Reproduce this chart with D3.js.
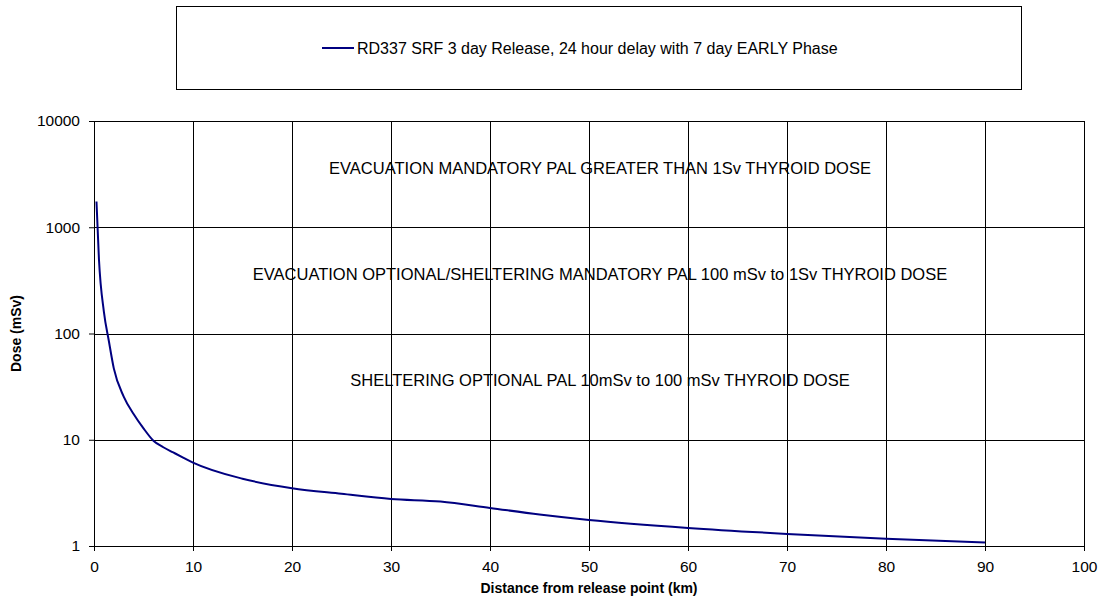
<!DOCTYPE html>
<html>
<head>
<meta charset="utf-8">
<script src="https://cdn.jsdelivr.net/npm/d3@7"></script>
<style>
  html, body { margin: 0; padding: 0; background: #fff; }
  svg { display: block; font-family: "Liberation Sans", Arial, sans-serif; }
</style>
</head>
<body>
<svg id="chart" width="1104" height="596"></svg>
<script>
// distance from release point (km)
const distances = [0.25, 0.5, 1, 1.5, 2, 3, 4, 5, 6, 7, 8, 9, 10, 15, 20, 25, 30, 35, 40, 45, 50, 60, 70, 80, 90];
// thyroid dose (mSv)
const doses = [1750, 500, 160, 85, 47, 25.5, 17.5, 12.8, 9.8, 8.5, 7.6, 6.8, 6.1, 4.3, 3.5, 3.1, 2.77, 2.62, 2.28, 1.98, 1.76, 1.48, 1.3, 1.17, 1.08];

const xTicks = [0, 10, 20, 30, 40, 50, 60, 70, 80, 90, 100];
const yTicks = [1, 10, 100, 1000, 10000];

const seriesName = 'RD337 SRF 3 day Release, 24 hour delay with 7 day EARLY Phase';
const zoneLabels = [
  { text: 'EVACUATION MANDATORY PAL GREATER THAN 1Sv THYROID DOSE', dose: 3162 },
  { text: 'EVACUATION OPTIONAL/SHELTERING MANDATORY PAL 100 mSv to 1Sv THYROID DOSE', dose: 316.2 },
  { text: 'SHELTERING OPTIONAL PAL 10mSv to 100 mSv THYROID DOSE', dose: 31.62 }
];

const svg = d3.select('#chart');
const margin = { top: 121, left: 94 };
const innerW = 1084 - margin.left;
const innerH = 546 - margin.top;

const x = d3.scaleLinear().domain([0, 100]).range([0, innerW]);
const y = d3.scaleLog().domain([1, 10000]).range([innerH, 0]);

const chart = svg.append('g')
  .attr('transform', `translate(${margin.left},${margin.top})`);

// grid
chart.append('g')
  .selectAll('line')
  .data(yTicks)
  .enter().append('line')
  .attr('x1', 0).attr('x2', innerW)
  .attr('y1', d => Math.round(y(d)) + 0.5)
  .attr('y2', d => Math.round(y(d)) + 0.5)
  .attr('stroke', '#000');

chart.append('g')
  .selectAll('line')
  .data(xTicks)
  .enter().append('line')
  .attr('x1', d => Math.round(x(d)) + 0.5)
  .attr('x2', d => Math.round(x(d)) + 0.5)
  .attr('y1', 0).attr('y2', innerH)
  .attr('stroke', '#000');

// axes
const xAxis = chart.append('g')
  .attr('transform', `translate(0,${innerH})`)
  .call(d3.axisBottom(x).tickValues(xTicks).tickSize(5).tickPadding(10).tickFormat(d3.format('d')));

const yAxis = chart.append('g')
  .call(d3.axisLeft(y).tickValues(yTicks).tickSize(5).tickPadding(9).tickFormat(d3.format('d')));

[xAxis, yAxis].forEach(a => {
  a.select('.domain').attr('stroke', '#000');
  a.selectAll('.tick line').attr('stroke', '#000');
  a.selectAll('text')
    .attr('fill', '#000')
    .style('font-size', '15.5px')
    .style('font-family', '"Liberation Sans", Arial, sans-serif');
});

// zone labels
chart.append('g')
  .selectAll('text')
  .data(zoneLabels)
  .enter().append('text')
  .attr('x', innerW / 2 + 11)
  .attr('y', d => y(d.dose) - 6)
  .attr('dy', '0.35em')
  .attr('text-anchor', 'middle')
  .style('font-size', '16.5px')
  .attr('fill', '#000')
  .text(d => d.text);

// series
const points = distances.map((d, i) => ({ x: d, y: doses[i] }));
chart.append('path')
  .datum(points)
  .attr('fill', 'none')
  .attr('stroke', '#000080')
  .attr('stroke-width', 2)
  .attr('d', d3.line().x(d => x(d.x)).y(d => y(d.y)).curve(d3.curveMonotoneX));

// axis titles
svg.append('text')
  .attr('x', margin.left + innerW / 2)
  .attr('y', 593)
  .attr('text-anchor', 'middle')
  .style('font-size', '14px')
  .style('font-weight', 'bold')
  .text('Distance from release point (km)');

svg.append('text')
  .attr('transform', `translate(21,${margin.top + innerH / 2}) rotate(-90)`)
  .attr('text-anchor', 'middle')
  .style('font-size', '14px')
  .style('font-weight', 'bold')
  .text('Dose (mSv)');

// legend
const legend = svg.append('g');
legend.append('rect')
  .attr('x', 176.5).attr('y', 6.5)
  .attr('width', 845).attr('height', 83)
  .attr('fill', '#fff')
  .attr('stroke', '#000');
legend.append('line')
  .attr('x1', 322).attr('x2', 354)
  .attr('y1', 48).attr('y2', 48)
  .attr('stroke', '#000080')
  .attr('stroke-width', 2);
legend.append('text')
  .attr('x', 357)
  .attr('y', 48)
  .attr('dy', '0.35em')
  .style('font-size', '16px')
  .text(seriesName);
</script>
</body>
</html>
